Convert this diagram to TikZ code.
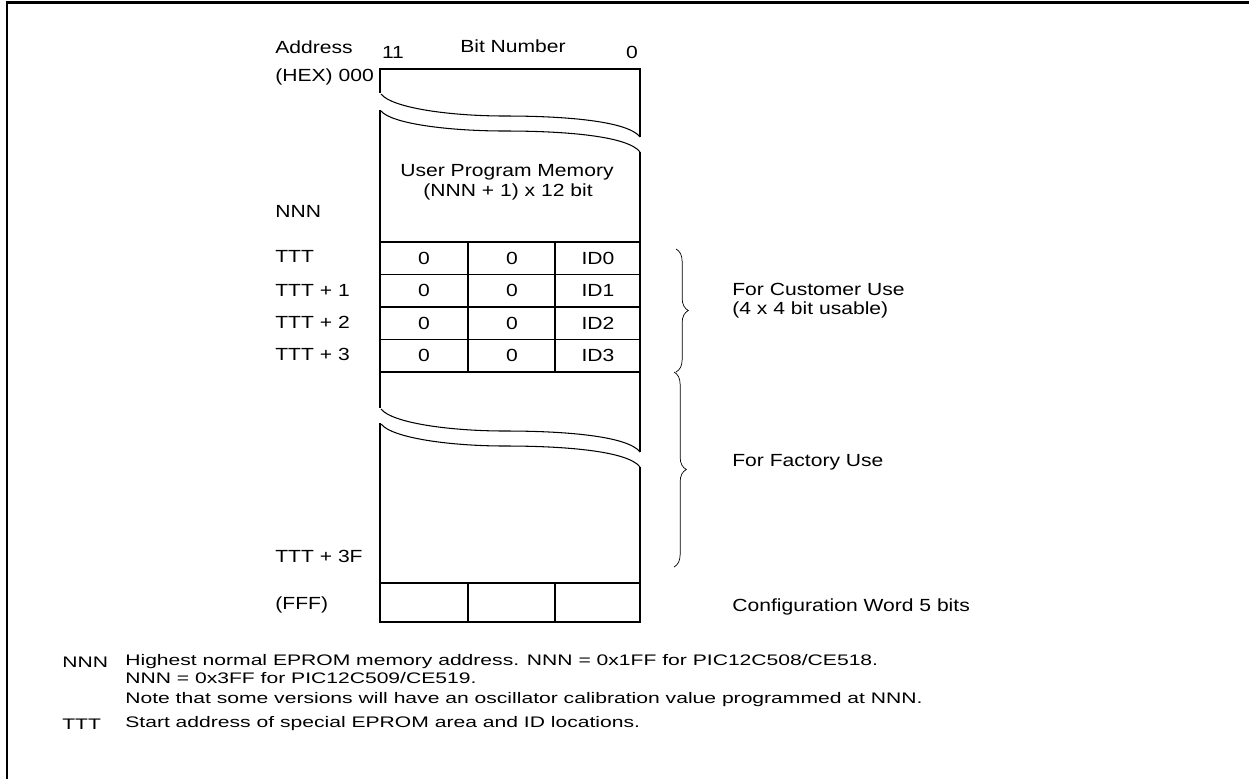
\documentclass[tikz,border=0pt]{standalone}
\usepackage{fontspec}
\setmainfont{Liberation Sans}[FakeStretch=1.2]
\newfontfamily\notefont{Liberation Sans}[FakeStretch=1.38]
\usetikzlibrary{decorations.pathreplacing}

\begin{document}
\begin{tikzpicture}[x=0.02cm,y=-0.02cm,
  lbl/.style={anchor=west,inner sep=0pt,font=\fontsize{10}{12}\selectfont},
  txt/.style={inner sep=0pt,font=\fontsize{10}{12}\selectfont},
  note/.style={anchor=west,inner sep=0pt,font=\notefont\fontsize{8.7}{10}\selectfont},
  brk/.style={line width=0.6pt},
  brc/.style={line width=0.4pt,decorate,decoration={brace,amplitude=7pt}}]
\useasboundingbox (0,0) rectangle (1249,779);

% frame
\draw[line width=1.7pt](7,779)--(7,2)--(1249,2);

% memory box
\draw[line width=1.1pt](380,93)--(380,69)--(640,69)--(640,137);
\draw[line width=1.1pt](380,110)--(380,408);
\draw[line width=1.1pt](640,152)--(640,452);
\draw[line width=1.1pt](380,423)--(380,622)--(640,622)--(640,467);
\draw[line width=1.1pt](380,242)--(640,242);
\draw[line width=1.1pt](380,274.5)--(640,274.5);
\draw[line width=1.1pt](380,307)--(640,307);
\draw[line width=1.1pt](380,339.5)--(640,339.5);
\draw[line width=1.1pt](380,372)--(640,372);
\draw[line width=1.1pt](380,583)--(640,583);
\draw[line width=1.1pt](468,242)--(468,372);
\draw[line width=1.1pt](555,242)--(555,372);
\draw[line width=1.1pt](468,583)--(468,622);
\draw[line width=1.1pt](555,583)--(555,622);

% breaks
\draw[brk](381,94) .. controls (392,108) and (450,116) .. (505,116) .. controls (565,116) and (628,121) .. (640,137);
\draw[brk](381,111) .. controls (392,124) and (450,131) .. (505,131) .. controls (565,131) and (628,136) .. (640,152);
\draw[brk](381,409) .. controls (392,423) and (450,431) .. (505,431) .. controls (565,431) and (628,436) .. (640,452);
\draw[brk](381,424) .. controls (392,438) and (450,446) .. (505,446) .. controls (565,446) and (628,451) .. (640,467);

% braces
\draw[brc](676,249)--(676,372);
\draw[brc](674,372)--(674,567);

% labels
 \node[lbl] at (275,47) (addr) {Address};
 \node[lbl] at (275,77) (hex) {(HEX) 000};
 \node[txt] at (393,52) (b11) {11};
 \node[txt] at (513,46) (bitno) {Bit Number};
 \node[txt] at (632,52) (b0) {0};
 \node[txt] at (507,172) (upm) {User Program Memory};
 \node[txt] at (508,192) (upmsize) {(NNN + 1) x 12 bit};
 \node[lbl] at (275,211) (nnn) {NNN};
 \node[lbl] at (275,256) (ttt) {TTT};
 \node[lbl] at (275,290) (ttta) {TTT + 1};
 \node[lbl] at (275,322) (tttb) {TTT + 2};
 \node[lbl] at (275,354) (tttc) {TTT + 3};
 \node[lbl] at (275,556) (tttf) {TTT + 3F};
 \node[lbl] at (275,605) (fff) {(FFF)};

% id cells
 \node[txt] at (424,258) (za) {0};
 \node[txt] at (512,258) (zb) {0};
 \node[txt] at (598,258) (ida) {ID0};
 \node[txt] at (424,290.5) (zc) {0};
 \node[txt] at (512,290.5) (zd) {0};
 \node[txt] at (598,290.5) (idb) {ID1};
 \node[txt] at (424,323) (ze) {0};
 \node[txt] at (512,323) (zf) {0};
 \node[txt] at (598,323) (idc) {ID2};
 \node[txt] at (424,355.5) (zg) {0};
 \node[txt] at (512,355.5) (zh) {0};
 \node[txt] at (598,355.5) (idd) {ID3};

% right side
 \node[lbl] at (732,289) (cust) {For Customer Use};
 \node[lbl] at (732,310) (usable) {(4 x 4 bit usable)};
 \node[lbl] at (732,462) (fact) {For Factory Use};
 \node[lbl] at (732,607) (cfg) {Configuration Word 5 bits};

% notes
 \node[note] at (62,662) (nnnkey) {NNN};
 \node[note] at (125,662) (nnna) {Highest normal EPROM memory address. NNN = 0x1FF for PIC12C508/CE518.};
 \node[note] at (125,678) (nnnb) {NNN = 0x3FF for PIC12C509/CE519.};
 \node[note] at (125,700) (nnnc) {Note that some versions will have an oscillator calibration value programmed at NNN.};
 \node[note] at (62,724) (tttkey) {TTT};
 \node[note] at (125,724) (tttb) {Start address of special EPROM area and ID locations.};
\end{tikzpicture}
\end{document}
